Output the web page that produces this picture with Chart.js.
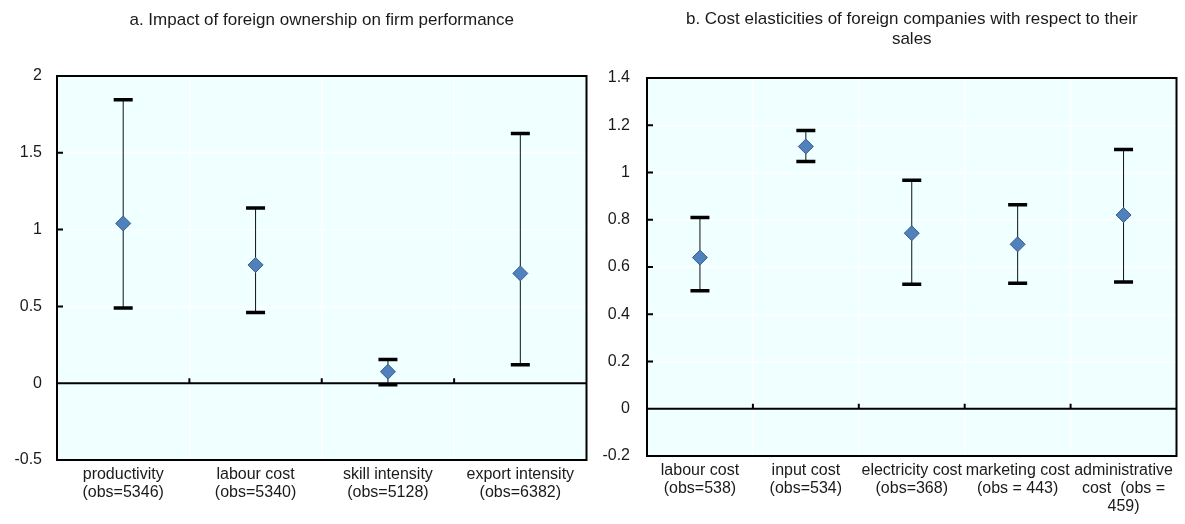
<!DOCTYPE html>
<html>
<head>
<meta charset="utf-8">
<script src="https://cdn.jsdelivr.net/npm/chart.js@4.4.0/dist/chart.umd.min.js"></script>
<style>
  html, body { margin: 0; padding: 0; background: #fff; overflow: hidden; }
  #wrap { position: relative; width: 1185px; height: 524px; }
  canvas { position: absolute; top: 0; }
  #chartA { left: 0; }
  #chartB { left: 595px; }
</style>
</head>
<body>
<div id="wrap">
  <canvas id="chartA" width="595" height="524"></canvas>
  <canvas id="chartB" width="590" height="524"></canvas>
</div>
<script>
// panel a
const labelsA = [["productivity", "(obs=5346)"], ["labour cost", "(obs=5340)"], ["skill intensity", "(obs=5128)"], ["export intensity", "(obs=6382)"]];
const pointA = [1.04, 0.77, 0.075, 0.715];
const upperA = [1.845, 1.14, 0.155, 1.625];
const lowerA = [0.49, 0.46, -0.01, 0.12];
const ticksA = [-0.5, 0, 0.5, 1, 1.5, 2];

// panel b
const labelsB = [["labour cost", "(obs=538)"], ["input cost", "(obs=534)"], ["electricity cost", "(obs=368)"], ["marketing cost", "(obs = 443)"], ["administrative", "cost  (obs =", "459)"]];
const pointB = [0.64, 1.11, 0.743, 0.696, 0.82];
const upperB = [0.81, 1.178, 0.967, 0.864, 1.097];
const lowerB = [0.50, 1.047, 0.527, 0.531, 0.536];
const ticksB = [-0.2, 0, 0.2, 0.4, 0.6, 0.8, 1, 1.2, 1.4];

const FONT = "'Liberation Sans', Arial, sans-serif";
const TEXT = '#1a1a1a';

const panelPlugin = {
  id: 'panel',
  beforeDraw(chart) {
    const { ctx, chartArea: a } = chart;
    ctx.save();
    ctx.fillStyle = '#F0FFFF';
    ctx.fillRect(a.left, a.top, a.right - a.left, a.bottom - a.top);
    ctx.restore();
  },
  beforeDatasetsDraw(chart, args, opts) {
    const { ctx, chartArea: a, scales: { x, y } } = chart;
    const y0 = y.getPixelForValue(0);
    ctx.save();
    ctx.strokeStyle = '#000';
    ctx.lineWidth = 2;
    ctx.beginPath();
    ctx.moveTo(a.left, y0);
    ctx.lineTo(a.right, y0);
    // little tick marks on the zero line, between categories
    for (let i = 1; i < x.ticks.length; i++) {
      const bx = (x.getPixelForTick(i - 1) + x.getPixelForTick(i)) / 2;
      ctx.moveTo(bx, y0);
      ctx.lineTo(bx, y0 - 5);
    }
    // inward ticks on the value axis
    y.ticks.forEach((t, i) => {
      const py = y.getPixelForTick(i);
      ctx.moveTo(a.left, py);
      ctx.lineTo(a.left + 6, py);
    });
    ctx.stroke();

    // error bars
    opts.upper.forEach((u, i) => {
      const px = x.getPixelForValue(i);
      const yu = y.getPixelForValue(u);
      const yl = y.getPixelForValue(opts.lower[i]);
      ctx.lineWidth = 1;
      ctx.strokeStyle = '#111';
      ctx.beginPath();
      ctx.moveTo(px, yu);
      ctx.lineTo(px, yl);
      ctx.stroke();
      ctx.lineWidth = 3.5;
      ctx.strokeStyle = '#000';
      ctx.beginPath();
      ctx.moveTo(px - 9.5, yu);
      ctx.lineTo(px + 9.5, yu);
      ctx.moveTo(px - 9.5, yl);
      ctx.lineTo(px + 9.5, yl);
      ctx.stroke();
    });
    ctx.restore();
  },
  afterDraw(chart) {
    const { ctx, chartArea: a } = chart;
    ctx.save();
    ctx.strokeStyle = '#000';
    ctx.lineWidth = 2;
    ctx.strokeRect(a.left, a.top, a.right - a.left, a.bottom - a.top);
    ctx.restore();
  }
};

function makeChart(id, cfg) {
  return new Chart(document.getElementById(id), {
    type: 'line',
    data: {
      labels: cfg.labels,
      datasets: [{
        data: cfg.points,
        showLine: false,
        pointStyle: 'rectRot',
        pointRadius: 7.5,
        pointHoverRadius: 7.5,
        pointBackgroundColor: '#4F81BD',
        pointBorderColor: '#3A5F8C',
        pointBorderWidth: 1
      }]
    },
    options: {
      responsive: false,
      animation: false,
      events: [],
      layout: { padding: { right: cfg.padRight } },
      plugins: {
        legend: { display: false },
        tooltip: { enabled: false },
        title: {
          display: true,
          fullSize: false,
          text: cfg.title,
          color: TEXT,
          font: { family: FONT, size: 17, weight: 'normal', lineHeight: 1.2 },
          padding: cfg.titlePad
        },
        panel: { upper: cfg.upper, lower: cfg.lower }
      },
      scales: {
        x: {
          type: 'category',
          offset: true,
          grid: { color: '#fff', lineWidth: 1.5, offset: true, drawTicks: false },
          border: { display: false },
          afterFit: s => { s.height = cfg.xHeight; },
          ticks: {
            color: TEXT,
            padding: 5,
            maxRotation: 0,
            autoSkip: false,
            font: { family: FONT, size: 16, lineHeight: 1.15 }
          }
        },
        y: {
          min: cfg.ticks[0],
          max: cfg.ticks[cfg.ticks.length - 1],
          afterBuildTicks: s => { s.ticks = cfg.ticks.map(v => ({ value: v })); },
          afterFit: s => { s.width = cfg.yWidth; },
          grid: { color: '#fff', lineWidth: 1.5, drawTicks: false },
          border: { display: false },
          ticks: {
            color: TEXT,
            padding: cfg.yPad,
            font: { family: FONT, size: 16 },
            callback: v => String(v)
          }
        }
      }
    },
    plugins: [panelPlugin]
  });
}

makeChart('chartA', {
  labels: labelsA, points: pointA, upper: upperA, lower: lowerA, ticks: ticksA,
  title: 'a. Impact of foreign ownership on firm performance',
  titlePad: { top: 9.8, bottom: 45.8 },
  padRight: 6, yWidth: 57, xHeight: 64, yPad: 15
});

makeChart('chartB', {
  labels: labelsB, points: pointB, upper: upperB, lower: lowerB, ticks: ticksB,
  title: ['b. Cost elasticities of foreign companies with respect to their', 'sales'],
  titlePad: { top: 8.8, bottom: 28.4 },
  padRight: 2, yWidth: 52, xHeight: 68, yPad: 17
});
</script>
</body>
</html>
